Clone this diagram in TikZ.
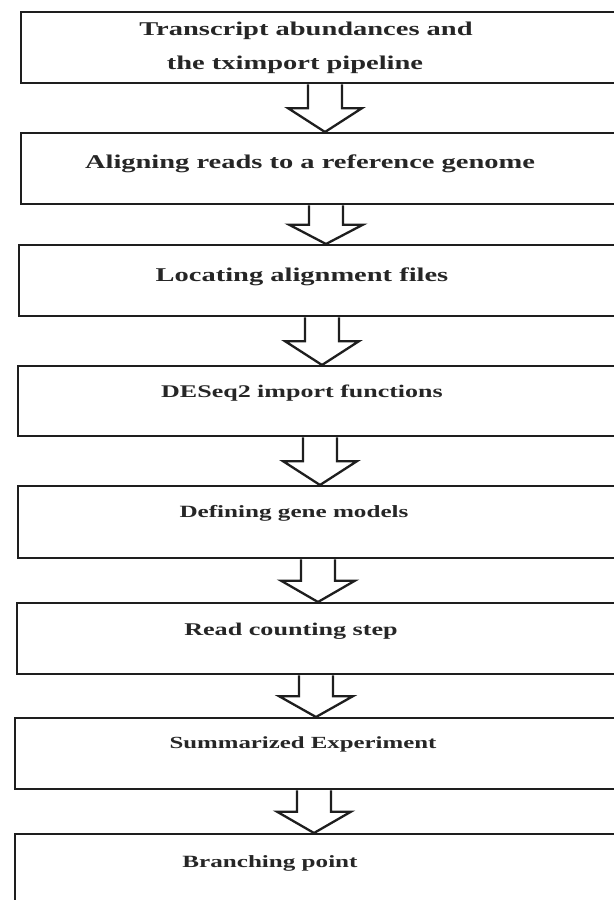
\documentclass[tikz,border=0pt]{standalone}
\usepackage{fontspec}
\usepackage{graphicx}
\setmainfont{Liberation Serif}
\usetikzlibrary{calc}
\definecolor{ink}{HTML}{1E1E1E}
\definecolor{txt}{HTML}{262626}
\newcommand\widetxt[1]{\scalebox{1.46}[1]{#1}}
\newcommand\blockarr[3]{%
  \draw[arrline] let \p0=(#3), \p1=(#1.south), \p2=(#2.north), \p3=($(\p1)!0.5!(\p2)$) in
    ({\x0-17bp},{\y1}) -- ({\x0-17bp},{\y3}) -- ({\x0-37bp},{\y3}) --
    ({\x0},{\y2}) -- ({\x0+37bp},{\y3}) -- ({\x0+17bp},{\y3}) -- ({\x0+17bp},{\y1});}
\begin{document}
\begin{tikzpicture}[x=1bp,y=-1bp,
  stepbox/.style={draw=ink, line width=2.3bp, fill=white, inner sep=0pt, anchor=north west, minimum width=620bp},
  arrline/.style={draw=ink, line width=2.3bp, fill=white, line join=miter},
  lbl/.style={anchor=base, inner sep=0pt, text=txt, font=\bfseries\fontsize{19.5bp}{22bp}\selectfont},
  lblsmall/.style={lbl, font=\bfseries\fontsize{#1bp}{20bp}\selectfont}]
\useasboundingbox (0,0) rectangle (614,900);
\clip (0,0) rectangle (614,900);
\fill[white] (0,0) rectangle (614,900);
% boxes
\node[stepbox, minimum height=71bp] (b1) at (20,11) {};
\node[stepbox, minimum height=71bp] (b2) at (20,132) {};
\node[stepbox, minimum height=71bp] (b3) at (18,244) {};
\node[stepbox, minimum height=70bp] (b4) at (17,365) {};
\node[stepbox, minimum height=72bp] (b5) at (17,485) {};
\node[stepbox, minimum height=71bp] (b6) at (16,602) {};
\node[stepbox, minimum height=71bp] (b7) at (14,717) {};
\node[stepbox, minimum height=80bp] (b8) at (14,833) {};
% arrow axes
\coordinate (x1) at (325,0);
\coordinate (x2) at (326,0);
\coordinate (x3) at (322,0);
\coordinate (x4) at (320,0);
\coordinate (x5) at (318,0);
\coordinate (x6) at (316,0);
\coordinate (x7) at (314,0);
\blockarr{b1}{b2}{x1}
\blockarr{b2}{b3}{x2}
\blockarr{b3}{b4}{x3}
\blockarr{b4}{b5}{x4}
\blockarr{b5}{b6}{x5}
\blockarr{b6}{b7}{x6}
\blockarr{b7}{b8}{x7}
% texts
\node[lbl] (t1a) at (306,35) {\widetxt{Transcript abundances and}};
\node[lbl] (t1b) at (295,69) {\widetxt{the tximport pipeline}};
\node[lbl] (t2) at (310,168) {\widetxt{Aligning reads to a reference genome}};
\node[lbl] (t3) at (302,281) {\widetxt{Locating alignment files}};
\node[lblsmall=17.8] (t4) at (302,397) {\widetxt{DESeq2 import functions}};
\node[lblsmall=17.2] (t5) at (294,517) {\widetxt{Defining gene models}};
\node[lblsmall=17.9] (t6) at (291,635) {\widetxt{Read counting step}};
\node[lblsmall=17.0] (t7) at (303,748) {\widetxt{Summarized Experiment}};
\node[lblsmall=17.2] (t8) at (270,867) {\widetxt{Branching point}};
\end{tikzpicture}
\end{document}
